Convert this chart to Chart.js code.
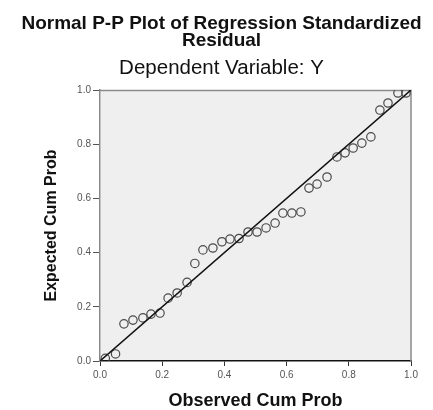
<!DOCTYPE html>
<html>
<head>
<meta charset="utf-8">
<script src="https://cdn.jsdelivr.net/npm/chart.js@4.4.0/dist/chart.umd.min.js"></script>
<style>
  body { margin: 0; background: #fff; }
  #wrap { width: 433px; height: 410px; }
</style>
</head>
<body>
<div id="wrap"><canvas id="chartPP" width="433" height="410"></canvas></div>
<script>
// observed vs expected cumulative probability
let obsCumProb = [0.017, 0.05, 0.077, 0.106, 0.138, 0.164, 0.193, 0.219, 0.248, 0.28,
                  0.305, 0.331, 0.363, 0.392, 0.418, 0.447, 0.476, 0.505, 0.534, 0.563,
                  0.588, 0.617, 0.646, 0.672, 0.698, 0.73, 0.762, 0.788, 0.814, 0.842,
                  0.871, 0.9, 0.926, 0.958, 0.984];
let expCumProb = [0.01, 0.026, 0.137, 0.151, 0.159, 0.173, 0.177, 0.232, 0.251, 0.29,
                  0.36, 0.41, 0.417, 0.44, 0.45, 0.452, 0.476, 0.476, 0.491, 0.509,
                  0.546, 0.546, 0.55, 0.638, 0.653, 0.679, 0.753, 0.768, 0.786, 0.804,
                  0.827, 0.926, 0.952, 0.989, 0.989];

// diagonal reference line
let refX = [0, 1];
let refY = [0, 1];

let tickValues = [0, 0.2, 0.4, 0.6, 0.8, 1.0];

let titleLines = ['Normal P-P Plot of Regression Standardized', 'Residual'];
let subTitle = 'Dependent Variable: Y';
let xTitle = 'Observed Cum Prob';
let yTitle = 'Expected Cum Prob';

let fam = '"Liberation Sans", Arial, sans-serif';

// grey plot background + frame
const plotFrame = {
    id: 'plotFrame',
    beforeDatasetsDraw(chart){
        let a = chart.chartArea;
        let ctx = chart.ctx;
        ctx.save();
        ctx.fillStyle = '#efefef';
        ctx.fillRect(a.left + 1, a.top, a.right - a.left - 1, a.bottom - a.top - 1);
        ctx.strokeStyle = '#8a8a8a';
        ctx.lineWidth = 1.5;
        ctx.beginPath();
        ctx.moveTo(a.left, a.top + 0.5);
        ctx.lineTo(a.right, a.top + 0.5);
        ctx.lineTo(a.right, a.bottom);
        ctx.stroke();
        ctx.restore();
    }
};

let points = obsCumProb.map((x, i) => ({x: x, y: expCumProb[i]}));
let line = refX.map((x, i) => ({x: x, y: refY[i]}));

let config = {
    type: 'scatter',
    data: {
        datasets: [{
            label: 'Reference',
            data: line,
            showLine: true,
            borderColor: '#111',
            borderWidth: 1.5,
            pointRadius: 0,
            pointHoverRadius: 0
        }, {
            label: 'Residual',
            data: points,
            pointRadius: 4.2,
            pointBorderWidth: 1.2,
            pointBorderColor: '#4a4a4a',
            pointBackgroundColor: 'rgba(0,0,0,0)'
        }]
    },
    options: {
        responsive: false,
        animation: false,
        events: [],
        layout: { padding: { left: 10, right: 0, top: 0, bottom: 0 } },
        plugins: {
            legend: { display: false },
            tooltip: { enabled: false },
            title: {
                display: true,
                text: titleLines,
                color: '#111',
                font: { family: fam, size: 19, weight: 'bold', lineHeight: '17px' },
                padding: { top: 15, bottom: 0 }
            },
            subtitle: {
                display: true,
                text: subTitle,
                color: '#111',
                font: { family: fam, size: 20.5, weight: 'normal', lineHeight: '20px' },
                padding: { top: 9, bottom: 12 }
            }
        },
        scales: {
            x: {
                type: 'linear',
                min: 0,
                max: 1,
                afterFit: s => { s.height = 49; },
                afterBuildTicks: s => { s.ticks = tickValues.map(v => ({value: v})); },
                ticks: {
                    color: '#555',
                    font: { family: fam, size: 10 },
                    padding: 3,
                    maxRotation: 0,
                    callback: v => v.toFixed(1)
                },
                grid: { drawOnChartArea: false, drawTicks: true, tickLength: 5, color: '#333' },
                border: { display: true, color: '#111', width: 1.5 },
                title: {
                    display: true,
                    text: xTitle,
                    color: '#111',
                    font: { family: fam, size: 18, weight: 'bold', lineHeight: '16px' },
                    padding: { top: 0, bottom: 1 }
                }
            },
            y: {
                type: 'linear',
                min: 0,
                max: 1,
                afterFit: s => { s.width = 90; },
                afterBuildTicks: s => { s.ticks = tickValues.map(v => ({value: v})); },
                ticks: {
                    color: '#555',
                    font: { family: fam, size: 10 },
                    padding: 2,
                    callback: v => v.toFixed(1)
                },
                grid: { drawOnChartArea: false, drawTicks: true, tickLength: 7, color: '#555' },
                border: { display: true, color: '#888', width: 1.5 },
                title: {
                    display: true,
                    text: yTitle,
                    color: '#111',
                    font: { family: fam, size: 16, weight: 'bold', lineHeight: '16px' },
                    padding: { top: 34, bottom: 0 }
                }
            },
            yRight: {
                type: 'linear',
                position: 'right',
                min: 0,
                max: 1,
                afterFit: s => { s.width = 22; },
                ticks: { display: false },
                grid: { display: false },
                border: { display: false }
            }
        }
    },
    plugins: [plotFrame]
};

let chartPP = new Chart(document.getElementById('chartPP'), config);
</script>
</body>
</html>
